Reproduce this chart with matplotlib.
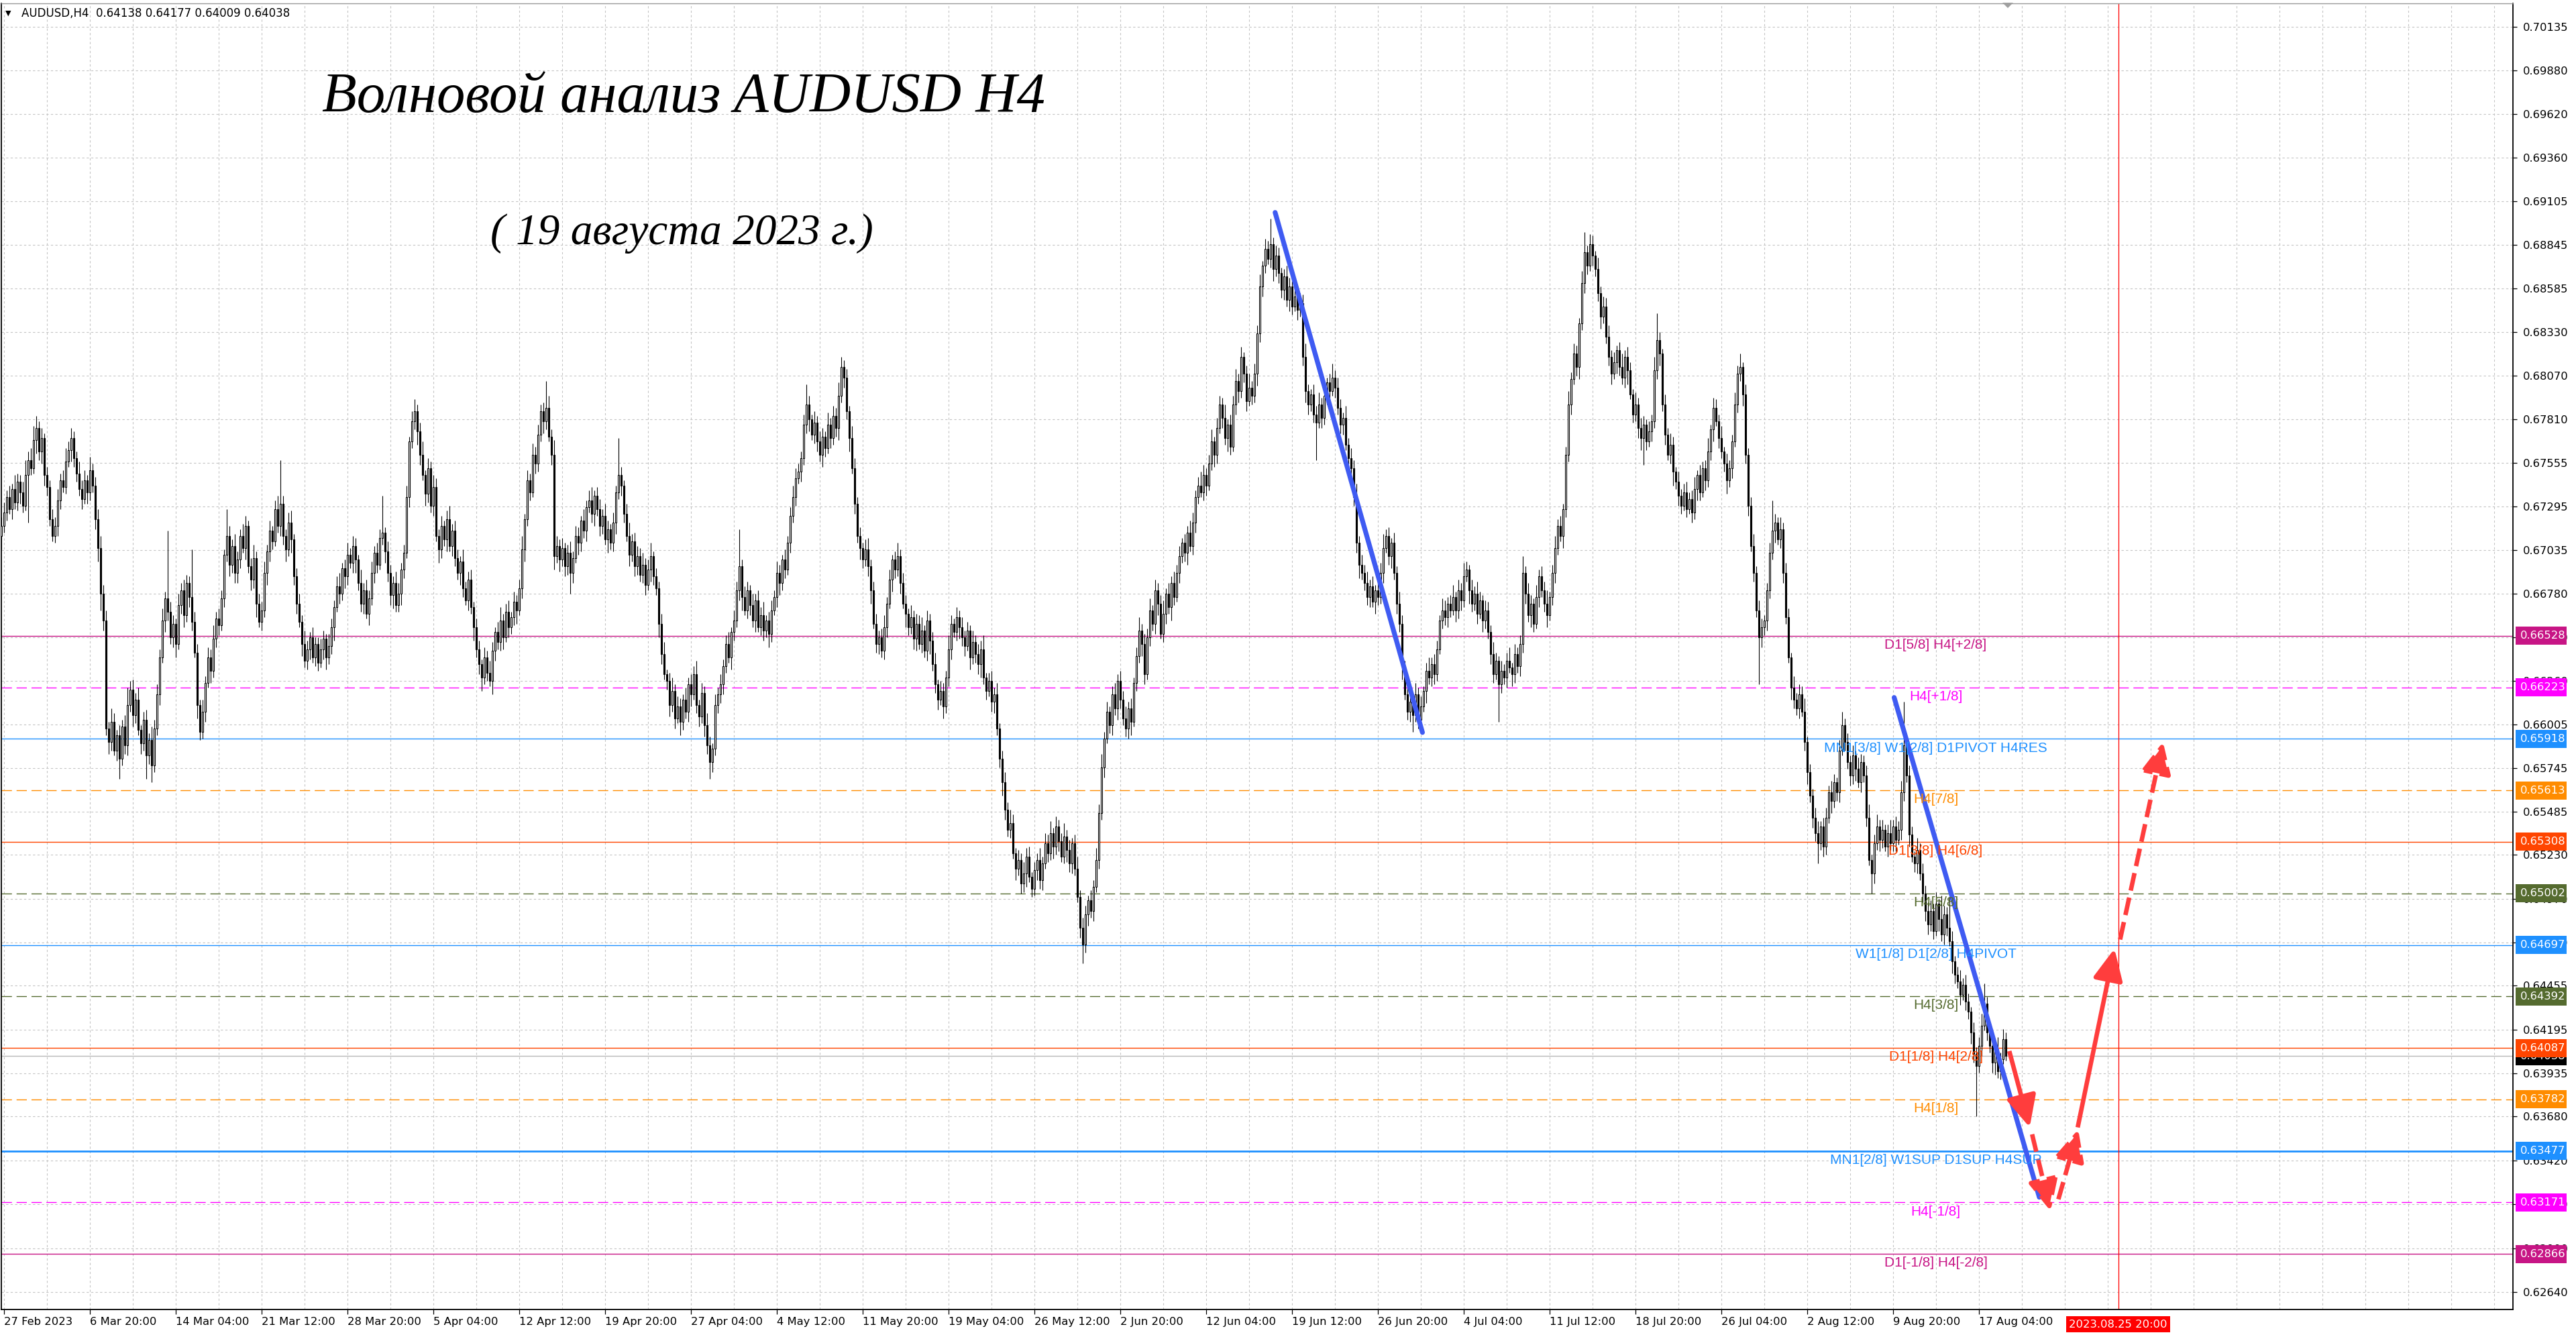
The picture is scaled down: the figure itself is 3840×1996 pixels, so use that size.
import matplotlib
matplotlib.use("Agg")
import matplotlib.pyplot as plt
from matplotlib.patches import FancyArrowPatch, Polygon, Rectangle
from matplotlib import font_manager
import numpy as np

# ---------------- data (prices in pips, 1 pip = 0.0001) ----------------
first_open = 6712
closes = [
    6718, 6726, 6735, 6728, 6740, 6732, 6744, 6738, 6730, 6748, 6757, 6752, 6769, 6776, 6762, 6770, 6748, 6741, 6722, 6712, 6718, 6733, 6745, 6741, 6756, 6763, 6770, 6758,
    6749, 6740, 6734, 6745, 6738, 6751, 6742, 6722, 6705, 6678, 6662, 6598, 6590, 6602, 6585, 6594, 6580, 6599, 6588, 6612, 6621, 6606, 6615, 6597, 6589, 6603, 6582, 6591, 6576, 6598,
    6618, 6640, 6662, 6675, 6667, 6652, 6660, 6648, 6671, 6680, 6665, 6684, 6676, 6661, 6643, 6612, 6596, 6608, 6625, 6640, 6632, 6651, 6663, 6659, 6675, 6701, 6712, 6695, 6706, 6690,
    6698, 6712, 6705, 6718, 6694, 6686, 6699, 6672, 6661, 6668, 6690, 6703, 6715, 6709, 6728, 6718, 6731, 6712, 6704, 6720, 6710, 6688, 6672, 6661, 6648, 6638, 6645, 6652, 6640, 6648,
    6637, 6645, 6651, 6640, 6647, 6658, 6670, 6682, 6678, 6693, 6688, 6701, 6696, 6706, 6698, 6684, 6672, 6680, 6666, 6675, 6690, 6702, 6695, 6711, 6714, 6703, 6690, 6677, 6684, 6671,
    6678, 6692, 6702, 6735, 6768, 6780, 6786, 6774, 6760, 6748, 6737, 6752, 6730, 6741, 6712, 6704, 6718, 6710, 6722, 6706, 6715, 6699, 6690, 6697, 6681, 6674, 6686, 6670, 6658, 6645,
    6636, 6628, 6640, 6631, 6626, 6644, 6655, 6649, 6662, 6652, 6667, 6658, 6664, 6673, 6668, 6681, 6704, 6722, 6745, 6738, 6760, 6755, 6772, 6786, 6780, 6788, 6771, 6760, 6700, 6706,
    6698, 6705, 6694, 6702, 6690, 6699, 6712, 6708, 6721, 6715, 6729, 6733, 6725, 6736, 6728, 6718, 6724, 6710, 6716, 6708, 6720, 6738, 6748, 6742, 6725, 6712, 6701, 6709, 6694, 6700,
    6689, 6695, 6683, 6692, 6700, 6688, 6681, 6660, 6642, 6630, 6626, 6612, 6620, 6604, 6611, 6602, 6615, 6608, 6624, 6618, 6630, 6612, 6605, 6619, 6600, 6588, 6578, 6586, 6612, 6618,
    6624, 6635, 6648, 6640, 6655, 6662, 6680, 6694, 6676, 6668, 6680, 6671, 6662, 6674, 6658, 6665, 6656, 6662, 6654, 6668, 6676, 6690, 6684, 6698, 6692, 6708, 6724, 6735, 6746, 6750,
    6758, 6778, 6790, 6781, 6772, 6779, 6768, 6760, 6771, 6764, 6778, 6770, 6783, 6776, 6795, 6812, 6806, 6786, 6770, 6752, 6731, 6712, 6705, 6698, 6704, 6694, 6680, 6660, 6648, 6652,
    6644, 6658, 6672, 6686, 6698, 6692, 6700, 6684, 6672, 6666, 6658, 6664, 6651, 6660, 6648, 6656, 6644, 6662, 6650, 6636, 6624, 6615, 6620, 6611, 6628, 6645, 6660, 6655, 6664, 6658,
    6652, 6647, 6656, 6640, 6649, 6642, 6636, 6645, 6628, 6620, 6626, 6614, 6618, 6598, 6580, 6566, 6550, 6538, 6542, 6524, 6515, 6520, 6506, 6512, 6522, 6510, 6503, 6514, 6520, 6508,
    6518, 6530, 6524, 6536, 6528, 6540, 6531, 6522, 6534, 6526, 6518, 6530, 6515, 6498, 6480, 6470, 6488, 6496, 6490, 6504, 6520, 6548, 6575, 6592, 6608, 6600, 6618, 6610, 6626, 6615,
    6604, 6598, 6610, 6602, 6625, 6641, 6656, 6648, 6630, 6652, 6668, 6660, 6680, 6672, 6654, 6666, 6678, 6670, 6684, 6676, 6690, 6700, 6708, 6702, 6714, 6706, 6720, 6735, 6742, 6738,
    6748, 6742, 6755, 6768, 6760, 6776, 6790, 6782, 6770, 6778, 6765, 6790, 6804, 6798, 6818, 6808, 6792, 6800, 6795, 6808, 6832, 6860, 6872, 6882, 6876, 6885, 6870, 6878, 6868, 6858,
    6866, 6852, 6860, 6848, 6854, 6846, 6850, 6818, 6798, 6790, 6796, 6784, 6779, 6790, 6782, 6795, 6803, 6798, 6806, 6800, 6788, 6778, 6782, 6766, 6758, 6752, 6735, 6708, 6695, 6690,
    6684, 6676, 6682, 6673, 6680, 6676, 6690, 6705, 6712, 6700, 6708, 6690, 6672, 6660, 6635, 6618, 6608, 6614, 6606, 6618, 6603, 6611, 6620, 6632, 6628, 6636, 6630, 6645, 6662, 6668,
    6664, 6672, 6668, 6676, 6668, 6680, 6674, 6688, 6692, 6680, 6672, 6678, 6666, 6674, 6662, 6668, 6655, 6642, 6630, 6638, 6624, 6632, 6628, 6638, 6634, 6630, 6642, 6635, 6648, 6690,
    6678, 6665, 6672, 6660, 6676, 6688, 6680, 6672, 6665, 6676, 6690, 6705, 6718, 6712, 6728, 6760, 6790, 6805, 6820, 6812, 6838, 6862, 6880, 6872, 6885, 6878, 6870, 6856, 6842, 6848,
    6830, 6818, 6808, 6815, 6822, 6812, 6806, 6818, 6810, 6796, 6784, 6790, 6776, 6770, 6778, 6768, 6774, 6780, 6810, 6828, 6820, 6790, 6772, 6760, 6766, 6750, 6744, 6736, 6730, 6738,
    6728, 6734, 6726, 6740, 6748, 6738, 6752, 6745, 6762, 6775, 6788, 6780, 6770, 6762, 6755, 6745, 6752, 6768, 6790, 6808, 6812, 6796, 6760, 6730, 6706, 6690, 6668, 6652, 6658, 6662,
    6680, 6702, 6715, 6720, 6710, 6716, 6690, 6664, 6640, 6622, 6615, 6610, 6618, 6608, 6590, 6572, 6558, 6545, 6536, 6530, 6540, 6528, 6545, 6560, 6555, 6566, 6560, 6585, 6600, 6590,
    6578, 6570, 6582, 6574, 6566, 6578, 6570, 6545, 6520, 6512, 6530, 6540, 6532, 6538, 6528, 6536, 6530, 6540, 6532, 6538, 6560, 6588, 6570, 6535, 6522, 6518, 6526, 6512, 6500, 6490,
    6482, 6490, 6478, 6494, 6485, 6476, 6488, 6480, 6472, 6460, 6452, 6448, 6440, 6446, 6436, 6430, 6418, 6405, 6398, 6410, 6422, 6435, 6418, 6410, 6400, 6408, 6395, 6402, 6414, 6404,
]
upper_wick = [
    5, 6, 4, 7, 3, 8, 5, 4, 6, 9, 5, 7, 8, 7, 4, 6, 3, 5, 4, 6, 5, 7, 4, 6, 8, 5, 6, 4,
    4, 7, 5, 6, 3, 8, 4, 5, 6, 7, 5, 6, 4, 8, 5, 3, 6, 4, 7, 10, 5, 6, 4, 7, 3, 5, 6, 4, 8, 5,
    6, 5, 7, 4, 40, 6, 5, 3, 7, 4, 6, 5, 4, 28, 6, 5, 3, 7, 4, 6, 5, 8, 4, 6, 5, 3, 16, 6, 4, 7,
    5, 4, 7, 6, 3, 5, 8, 4, 6, 5, 7, 4, 6, 3, 5, 8, 26, 5, 4, 6, 7, 3, 5, 6, 4, 8, 5, 3, 6, 4,
    4, 6, 5, 3, 7, 5, 4, 6, 8, 3, 5, 7, 4, 6, 5, 3, 8, 4, 6, 5, 7, 4, 6, 5, 22, 3, 6, 5, 4, 7,
    6, 4, 5, 7, 3, 6, 7, 4, 5, 8, 3, 6, 4, 7, 5, 4, 6, 3, 5, 8, 4, 6, 5, 3, 7, 4, 5, 6, 3, 5,
    5, 3, 6, 4, 7, 5, 3, 6, 8, 4, 5, 7, 3, 6, 4, 5, 8, 3, 6, 4, 7, 5, 6, 4, 5, 16, 7, 4, 9, 6,
    4, 6, 3, 5, 7, 4, 6, 5, 3, 7, 4, 6, 8, 3, 5, 6, 4, 7, 5, 3, 6, 4, 22, 5, 3, 6, 8, 4, 5, 6,
    5, 7, 4, 6, 8, 3, 5, 4, 6, 7, 3, 5, 8, 4, 6, 5, 3, 7, 4, 6, 5, 8, 3, 6, 4, 7, 5, 3, 6, 4,
    6, 4, 5, 7, 3, 6, 5, 22, 4, 6, 5, 3, 7, 4, 6, 5, 8, 3, 5, 6, 4, 7, 5, 3, 6, 4, 5, 7, 6, 5,
    4, 6, 12, 5, 3, 7, 4, 6, 5, 3, 7, 4, 6, 5, 8, 6, 4, 5, 3, 7, 6, 4, 5, 3, 6, 7, 4, 5, 6, 4,
    5, 7, 4, 6, 3, 5, 8, 4, 6, 5, 3, 7, 4, 6, 5, 8, 3, 6, 4, 5, 7, 3, 6, 5, 4, 8, 5, 3, 6, 4,
    6, 4, 5, 3, 7, 4, 6, 5, 8, 3, 5, 6, 4, 7, 3, 5, 6, 4, 8, 5, 3, 6, 4, 7, 5, 6, 3, 5, 4, 7,
    4, 6, 5, 7, 3, 6, 4, 5, 8, 4, 6, 3, 5, 7, 4, 6, 5, 3, 6, 4, 7, 5, 8, 4, 6, 3, 5, 7, 4, 6,
    5, 7, 4, 6, 3, 5, 8, 4, 6, 5, 7, 3, 6, 4, 5, 8, 3, 6, 4, 7, 5, 6, 3, 5, 4, 7, 6, 4, 5, 8,
    6, 4, 5, 7, 3, 6, 5, 4, 8, 3, 6, 5, 7, 4, 6, 3, 5, 8, 4, 6, 5, 7, 3, 6, 5, 15, 4, 6, 5, 3,
    4, 6, 5, 3, 7, 4, 6, 5, 8, 4, 3, 6, 5, 7, 4, 6, 3, 5, 8, 4, 6, 5, 3, 7, 4, 6, 5, 8, 4, 6,
    5, 7, 4, 6, 3, 5, 6, 8, 4, 5, 3, 6, 4, 7, 5, 3, 6, 4, 5, 7, 4, 6, 3, 5, 8, 4, 6, 5, 3, 7,
    6, 4, 5, 7, 3, 6, 4, 8, 5, 3, 6, 4, 7, 5, 3, 6, 5, 4, 7, 5, 3, 6, 4, 5, 8, 3, 6, 4, 5, 10,
    4, 6, 5, 3, 7, 4, 6, 5, 8, 3, 5, 7, 4, 6, 3, 5, 8, 4, 6, 5, 3, 7, 12, 4, 6, 5, 3, 7, 4, 6,
    5, 7, 4, 6, 3, 5, 8, 4, 6, 5, 3, 7, 4, 6, 5, 3, 6, 4, 8, 16, 5, 3, 6, 4, 7, 5, 3, 6, 4, 5,
    6, 4, 5, 7, 3, 6, 4, 5, 8, 3, 6, 5, 4, 7, 3, 6, 5, 4, 7, 5, 8, 3, 6, 4, 5, 7, 4, 6, 5, 3,
    4, 6, 18, 5, 3, 7, 4, 6, 5, 3, 7, 4, 6, 5, 8, 3, 5, 4, 6, 7, 3, 5, 6, 4, 7, 5, 3, 6, 8, 4,
    5, 4, 6, 3, 7, 5, 4, 6, 8, 3, 5, 7, 4, 6, 3, 5, 8, 4, 6, 5, 7, 26, 4, 6, 5, 3, 7, 4, 6, 5,
    5, 6, 4, 7, 3, 14, 5, 4, 18, 6, 3, 5, 7, 4, 6, 5, 3, 6, 4, 5, 7, 12, 4, 6, 3, 5, 7, 4, 6, 4,
]
lower_wick = [
    8, 4, 5, 3, 6, 4, 5, 7, 4, 3, 28, 4, 3, 8, 5, 7, 6, 5, 4, 3, 4, 6, 5, 3, 4, 3, 7, 5,
    5, 4, 6, 3, 7, 5, 4, 6, 8, 10, 6, 4, 7, 5, 3, 6, 12, 4, 5, 6, 4, 7, 5, 3, 6, 4, 14, 5, 10, 4,
    4, 6, 3, 7, 5, 4, 6, 8, 3, 5, 7, 4, 6, 5, 3, 8, 5, 4, 6, 3, 7, 4, 5, 6, 3, 5, 4, 7, 5, 6,
    6, 5, 3, 7, 4, 6, 5, 8, 3, 5, 4, 7, 6, 5, 3, 4, 6, 5, 7, 4, 8, 5, 6, 3, 7, 4, 5, 6, 3, 5,
    5, 3, 6, 7, 4, 5, 8, 3, 6, 4, 7, 5, 3, 6, 8, 4, 5, 6, 3, 7, 4, 6, 5, 3, 4, 7, 5, 6, 8, 4,
    4, 7, 5, 3, 6, 4, 5, 8, 6, 3, 7, 5, 4, 6, 3, 8, 5, 4, 7, 3, 6, 5, 4, 7, 5, 3, 6, 4, 8, 5,
    6, 8, 4, 5, 3, 8, 6, 4, 5, 7, 3, 6, 4, 5, 8, 3, 6, 7, 4, 5, 3, 6, 5, 4, 7, 5, 3, 6, 8, 4,
    7, 4, 6, 5, 12, 6, 3, 7, 5, 4, 6, 3, 5, 7, 4, 6, 5, 3, 8, 4, 5, 7, 4, 6, 5, 3, 7, 4, 6, 5,
    4, 5, 6, 3, 7, 5, 4, 8, 6, 3, 5, 7, 4, 6, 3, 8, 5, 4, 6, 7, 3, 5, 6, 4, 7, 5, 10, 6, 4, 5,
    5, 6, 4, 3, 7, 5, 4, 6, 8, 3, 5, 6, 4, 7, 3, 5, 6, 4, 8, 5, 3, 6, 7, 4, 5, 3, 6, 4, 5, 3,
    6, 4, 5, 7, 3, 5, 6, 4, 7, 5, 3, 6, 4, 5, 7, 4, 6, 5, 8, 3, 6, 4, 7, 5, 4, 6, 8, 3, 5, 6,
    4, 5, 6, 3, 7, 5, 4, 6, 3, 8, 5, 4, 6, 7, 3, 5, 4, 6, 8, 4, 5, 6, 3, 7, 4, 5, 6, 3, 5, 7,
    5, 6, 3, 7, 4, 5, 6, 8, 4, 5, 3, 6, 7, 4, 5, 8, 6, 4, 5, 3, 7, 4, 6, 5, 8, 3, 5, 4, 6, 5,
    6, 3, 5, 4, 7, 5, 6, 3, 4, 7, 5, 6, 4, 3, 6, 11, 5, 7, 4, 6, 3, 5, 4, 6, 3, 5, 6, 4, 7, 5,
    4, 5, 6, 8, 3, 5, 4, 7, 6, 3, 5, 4, 6, 7, 3, 5, 6, 4, 8, 5, 3, 6, 4, 5, 7, 3, 5, 6, 4, 3,
    5, 6, 3, 4, 7, 5, 3, 6, 4, 8, 5, 3, 6, 7, 4, 5, 6, 3, 5, 4, 7, 5, 6, 4, 3, 5, 7, 4, 6, 5,
    6, 4, 7, 5, 3, 6, 4, 5, 7, 6, 4, 5, 22, 3, 6, 4, 5, 7, 3, 6, 4, 5, 6, 3, 7, 4, 5, 6, 8, 4,
    4, 5, 6, 3, 7, 5, 4, 6, 3, 5, 7, 4, 6, 5, 8, 3, 5, 6, 10, 4, 5, 6, 3, 7, 4, 5, 6, 4, 3, 5,
    5, 6, 4, 3, 7, 5, 6, 4, 3, 8, 5, 4, 6, 3, 7, 5, 4, 6, 5, 3, 22, 5, 4, 6, 3, 7, 5, 4, 6, 5,
    6, 4, 7, 5, 3, 6, 4, 5, 7, 3, 5, 6, 4, 3, 7, 5, 4, 6, 3, 5, 7, 4, 6, 5, 3, 6, 4, 5, 7, 4,
    4, 5, 6, 3, 7, 5, 4, 6, 8, 3, 5, 4, 6, 7, 16, 5, 3, 6, 4, 5, 7, 4, 6, 3, 5, 8, 4, 6, 5, 3,
    5, 3, 6, 4, 7, 5, 3, 6, 4, 5, 7, 3, 6, 4, 5, 8, 4, 6, 3, 5, 4, 7, 5, 6, 3, 5, 4, 28, 6, 5,
    6, 5, 4, 7, 3, 5, 6, 4, 3, 7, 5, 4, 6, 3, 5, 7, 4, 6, 5, 12, 4, 6, 5, 3, 7, 4, 5, 6, 3, 5,
    4, 6, 5, 7, 3, 6, 4, 5, 3, 12, 6, 4, 7, 5, 3, 6, 4, 5, 7, 3, 6, 5, 4, 7, 3, 5, 6, 4, 5, 6,
    6, 4, 5, 3, 7, 4, 6, 5, 3, 7, 5, 4, 6, 3, 5, 4, 7, 5, 30, 4, 6, 3, 5, 4, 6, 7, 4, 5, 3, 3,
]

date_labels = ['27 Feb 2023', '6 Mar 20:00', '14 Mar 04:00', '21 Mar 12:00', '28 Mar 20:00',
               '5 Apr 04:00', '12 Apr 12:00', '19 Apr 20:00', '27 Apr 04:00', '4 May 12:00',
               '11 May 20:00', '19 May 04:00', '26 May 12:00', '2 Jun 20:00', '12 Jun 04:00',
               '19 Jun 12:00', '26 Jun 20:00', '4 Jul 04:00', '11 Jul 12:00', '18 Jul 20:00',
               '26 Jul 04:00', '2 Aug 12:00', '9 Aug 20:00', '17 Aug 04:00']
price_ticks = [0.70135, 0.69880, 0.69620, 0.69360, 0.69105, 0.68845, 0.68585, 0.68330,
               0.68070, 0.67810, 0.67555, 0.67295, 0.67035, 0.66780, 0.66520, 0.66260,
               0.66005, 0.65745, 0.65485, 0.65230, 0.64970, 0.64710, 0.64455, 0.64195,
               0.63935, 0.63680, 0.63420, 0.63160, 0.62900, 0.62640]

level_prices = [0.66528, 0.66223, 0.65918, 0.65613, 0.65308, 0.65002, 0.64697,
                0.64392, 0.64087, 0.63782, 0.63477, 0.63171, 0.62866]
level_labels = ['D1[5/8] H4[+2/8]', 'H4[+1/8]', 'MN1[3/8] W1[2/8] D1PIVOT H4RES', 'H4[7/8]',
                'D1[3/8] H4[6/8]', 'H4[5/8]', 'W1[1/8] D1[2/8] H4PIVOT', 'H4[3/8]',
                'D1[1/8] H4[2/8]', 'H4[1/8]', 'MN1[2/8] W1SUP D1SUP H4SUP', 'H4[-1/8]',
                'D1[-1/8] H4[-2/8]']
level_colors = ['#C71585', '#FF00FF', '#1E90FF', '#FF8C00', '#FF4500', '#556B2F', '#1E90FF',
                '#556B2F', '#FF4500', '#FF8C00', '#1E90FF', '#FF00FF', '#C71585']
level_dashed = [False, True, False, True, False, True, False, True, False, True, False, True, False]

current_price = 0.64038
header_text = 'AUDUSD,H4  0.64138 0.64177 0.64009 0.64038'
title_text = 'Волновой анализ AUDUSD H4'
subtitle_text = '( 19 августа 2023 г.)'

# blue trend lines: (bar, price) -> (bar, price)
trend_lines = [((473.8, 0.69037), (528.7, 0.65956)),
               ((704.5, 0.66163), (758.6, 0.63202))]
# red forecast arrows: start, end, dashed?
forecast_arrows = [((747.4, 0.64068), (755.0, 0.63616), False),
                   ((755.9, 0.63575), (762.8, 0.63120), True),
                   ((765.7, 0.63190), (773.1, 0.63604), True),
                   ((772.9, 0.63616), (786.6, 0.64675), False),
                   ((788.7, 0.64729), (804.7, 0.65900), True)]
future_bar = 788
future_label = '2023.08.25 20:00'

# ---------------- figure ----------------
W, H = 3840, 1996
fig = plt.figure(figsize=(W / 100, H / 100), dpi=100)
fig.patch.set_facecolor('white')
ax_left, ax_right_px, ax_top_px, ax_bot_px = 2, 3746, 5, 1952
ax = fig.add_axes([ax_left / W, (H - ax_bot_px) / H, (ax_right_px - ax_left) / W,
                   (ax_bot_px - ax_top_px) / H])
ax.set_facecolor('white')
ax.set_xlim(-0.9, 935.1)
ax.set_ylim(0.62537, 0.70276)
px_price = (0.70276 - 0.62537) / (ax_bot_px - ax_top_px)

# grid
for p in price_ticks:
    ax.axhline(p, color='#C4C4C4', lw=0.8, ls=(0, (3, 3)), zorder=0)
for g in range(0, 936, 16):
    ax.axvline(g, color='#C4C4C4', lw=0.8, ls=(0, (3, 3)), zorder=0)

# levels
for p, c, d in zip(level_prices, level_colors, level_dashed):
    lw = 2.0 if p == 0.63477 else 1.0
    ax.axhline(p, color=c, lw=lw, ls=(0, (11, 5)) if d else '-', zorder=1)
ax.axhline(current_price, color='#B8B8B8', lw=1.0, zorder=1)
ax.axvline(future_bar, color='#FF0000', lw=0.9, zorder=1)

# candles
c = np.array(closes, dtype=float) / 1e4
o = np.array([first_open] + closes[:-1], dtype=float) / 1e4
hi = np.maximum(o, c) + np.array(upper_wick) / 1e4
lo = np.minimum(o, c) - np.array(lower_wick) / 1e4
x = np.arange(len(c)) - 1
ax.vlines(x, lo, hi, color='black', lw=0.8, zorder=3)
bull = c >= o
ax.bar(x[bull], (c - o)[bull], bottom=o[bull], width=0.55, facecolor='white',
       edgecolor='black', linewidth=0.8, zorder=4)
ax.bar(x[~bull], (c - o)[~bull], bottom=o[~bull], width=0.55, facecolor='black',
       edgecolor='black', linewidth=0.8, zorder=4)

# trend lines
for (x0, y0), (x1, y1) in trend_lines:
    ax.plot([x0, x1], [y0, y1], color='#3F5BF2', lw=5.2, solid_capstyle='round', zorder=6)

# arrows
for (x0, y0), (x1, y1), dashed in forecast_arrows:
    arr = FancyArrowPatch((x0, y0), (x1, y1), arrowstyle='-|>,head_length=0.95,head_width=0.45',
                          mutation_scale=30, color='#FF3D3D', lw=4.8,
                          linestyle=(0, (4, 1.6)) if dashed else '-', shrinkA=0, shrinkB=0,
                          zorder=7, capstyle='butt')
    ax.add_patch(arr)

# level labels
for p, t, col in zip(level_prices, level_labels, level_colors):
    ax.annotate(t, (720, p), xytext=(0, -3), textcoords='offset points', ha='center', va='top',
                color=col, fontsize=15, family=['Liberation Sans', 'DejaVu Sans'], zorder=8)

# axes style
for s in ['left', 'bottom', 'right']:
    ax.spines[s].set_color('black')
    ax.spines[s].set_linewidth(1.3)
ax.spines['top'].set_color('#9A9A9A')
ax.spines['top'].set_linewidth(1.0)

ax.yaxis.tick_right()
ax.set_yticks(price_ticks)
ax.set_yticklabels([f'{v:.5f}' for v in price_ticks])
ax.tick_params(axis='y', direction='out', length=4, width=0.9, pad=7, labelsize=11.8,
               colors='black')

names = {f.name for f in font_manager.fontManager.ttflist}
if 'Liberation Sans Narrow' in names:
    date_font, date_size = ['Liberation Sans Narrow', 'DejaVu Sans'], 16.5
else:
    date_font, date_size = ['DejaVu Sans'], 11.8
ax.set_xticks([32 * i for i in range(len(date_labels))])
ax.set_xticklabels(date_labels, ha='left', family=date_font, fontsize=date_size)
ax.tick_params(axis='x', direction='out', length=5, width=0.9, pad=3, colors='black')

# right-axis price boxes
ytr = ax.get_yaxis_transform()
box_x0 = (3750 - ax_left) / (ax_right_px - ax_left)
box_w = 76 / (ax_right_px - ax_left)
box_h = 27 * px_price
tx = (3757 - ax_left) / (ax_right_px - ax_left)
for p, col, z in [(current_price, 'black', 10)] + [(lp, lc, 11) for lp, lc in zip(level_prices, level_colors)]:
    ax.add_patch(Rectangle((box_x0, p - box_h / 2), box_w, box_h, transform=ytr, fc=col,
                           ec='none', clip_on=False, zorder=z))
    ax.text(tx, p, f'{p:.5f}', transform=ytr, ha='left', va='center', color='white',
            fontsize=11.8, clip_on=False, zorder=z + 0.5)

# future time label
xtr = ax.get_xaxis_transform()
ax.text(future_bar, -0.0113, future_label, transform=xtr, ha='center', va='center',
        color='white', family=date_font, fontsize=date_size, clip_on=False, zorder=12,
        bbox=dict(boxstyle='square,pad=0.25', fc='#FF0000', ec='none'))

# header
fig.text(8 / W, 1 - 20 / H, '▼', fontsize=8, ha='left', va='center', color='black')
fig.text(32 / W, 1 - 20 / H, header_text, fontsize=12, ha='left', va='center', color='black')
# small chart-shift marker at top
fig.patches.append(Polygon([(2985 / W, 1 - 4 / H), (3001 / W, 1 - 4 / H), (2993 / W, 1 - 12 / H)],
                           closed=True, transform=fig.transFigure, fc='#A0A0A0', ec='none'))

# title texts
fig.text(1019 / W, 1 - 147 / H, title_text, ha='center', va='center', fontsize=61,
         family=['Liberation Serif', 'DejaVu Serif'], style='italic', color='black')
fig.text(1016 / W, 1 - 348 / H, subtitle_text, ha='center', va='center', fontsize=47,
         family=['Liberation Serif', 'DejaVu Serif'], style='italic', color='black')

fig.savefig('out.png', dpi=100, facecolor='white')
